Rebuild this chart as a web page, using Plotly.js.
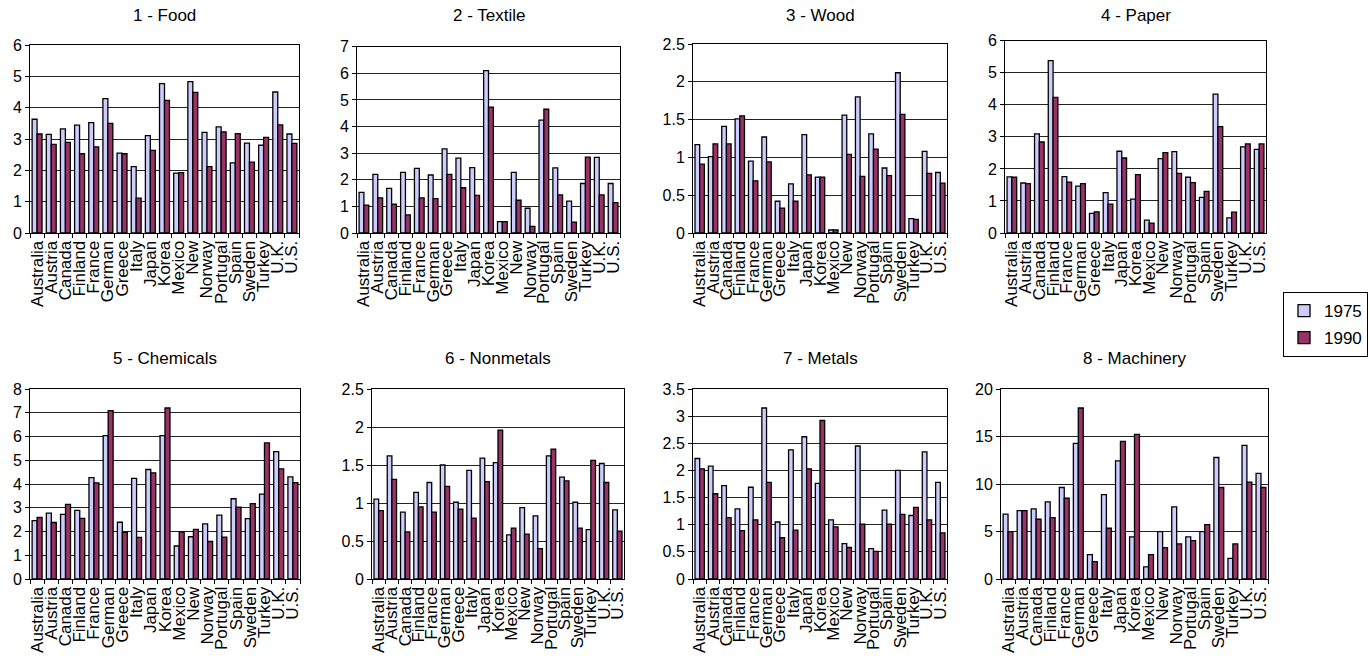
<!DOCTYPE html>
<html>
<head>
<meta charset="utf-8">
<script src="https://cdn.plot.ly/plotly-3.0.1.min.js"></script>
<style>html,body{margin:0;padding:0;background:#fff;}#chart{width:1370px;height:667px;}</style>
</head>
<body>
<div id="chart"></div>
<script>
const countries = ["Australia","Austria","Canada","Finland","France","German","Greece","Italy","Japan","Korea","Mexico","New","Norway","Portugal","Spain","Sweden","Turkey","U.K.","U.S."];
const panelTitles = ["1 - Food","2 - Textile","3 - Wood","4 - Paper","5 - Chemicals","6 - Nonmetals","7 - Metals","8 - Machinery"];
const seriesNames = ["1975","1990"];

const food1975 = [3.63,3.15,3.32,3.44,3.52,4.29,2.55,2.12,3.11,4.77,1.91,4.83,3.21,3.39,2.24,2.87,2.80,4.50,3.16];
const food1990 = [3.16,2.83,2.89,2.53,2.75,3.50,2.53,1.11,2.64,4.23,1.93,4.49,2.12,3.23,3.17,2.26,3.05,3.45,2.86];
const textile1975 = [1.53,2.20,1.68,2.28,2.43,2.18,3.16,2.81,2.46,6.10,0.43,2.28,0.93,4.24,2.45,1.20,1.86,2.84,1.86];
const textile1990 = [1.05,1.32,1.08,0.68,1.32,1.29,2.20,1.70,1.41,4.73,0.43,1.23,0.25,4.65,1.43,0.41,2.85,1.43,1.14];
const wood1975 = [1.17,1.01,1.41,1.51,0.95,1.27,0.42,0.65,1.30,0.74,0.04,1.56,1.80,1.31,0.86,2.12,0.19,1.08,0.80];
const wood1990 = [0.91,1.18,1.18,1.55,0.69,0.94,0.33,0.42,0.77,0.74,0.04,1.04,0.75,1.11,0.76,1.57,0.18,0.79,0.66];
const paper1975 = [1.75,1.56,3.09,5.38,1.76,1.46,0.61,1.26,2.55,1.06,0.40,2.32,2.54,1.74,1.11,4.33,0.47,2.69,2.61];
const paper1990 = [1.74,1.54,2.84,4.23,1.59,1.54,0.66,0.90,2.34,1.82,0.31,2.51,1.86,1.57,1.30,3.32,0.65,2.78,2.78];
const chem1975 = [2.46,2.77,2.72,2.89,4.27,6.04,2.39,4.24,4.61,6.04,1.39,1.78,2.32,2.69,3.38,2.54,3.57,5.36,4.30];
const chem1990 = [2.59,2.38,3.14,2.55,4.05,7.09,1.96,1.75,4.47,7.20,1.99,2.09,1.58,1.76,3.03,3.17,5.73,4.64,4.06];
const nonmet1975 = [1.05,1.62,0.88,1.14,1.27,1.50,1.01,1.43,1.59,1.53,0.58,0.94,0.83,1.62,1.34,1.01,0.65,1.52,0.91];
const nonmet1990 = [0.90,1.31,0.62,0.95,0.88,1.22,0.92,0.80,1.28,1.96,0.67,0.59,0.40,1.71,1.29,0.67,1.56,1.27,0.63];
const metals1975 = [2.22,2.08,1.72,1.29,1.69,3.15,1.05,2.38,2.62,1.76,1.09,0.65,2.45,0.56,1.27,2.00,1.17,2.34,1.78];
const metals1990 = [2.03,1.57,1.13,0.89,1.09,1.78,0.76,0.90,2.03,2.92,0.96,0.58,1.01,0.51,1.01,1.19,1.32,1.09,0.85];
const mach1975 = [6.82,7.20,7.38,8.12,9.63,14.27,2.57,8.89,12.44,4.43,1.27,4.99,7.59,4.43,4.99,12.79,2.18,14.06,11.11];
const mach1990 = [4.99,7.20,6.29,6.47,8.50,18.00,1.83,5.34,14.48,15.22,2.57,3.30,3.69,4.04,5.73,9.63,3.69,10.19,9.63];

const yMax = [6,7,2.5,6,8,2.5,3.5,20];
const yStep = [1,1,0.5,1,1,0.5,0.5,5];

const panelData = [
  [food1975, food1990],[textile1975, textile1990],[wood1975, wood1990],[paper1975, paper1990],
  [chem1975, chem1990],[nonmet1975, nonmet1990],[metals1975, metals1990],[mach1975, mach1990]
];

const W = 1370, H = 667;
// plot boxes in pixels [left, right, top, bottom]
const boxes = [
  [30,299,45,233],[357,620,46.7,233],[693,947,44,233],[1005,1266,40.7,233],
  [30,300,389,579],[372,624,389,579],[693,947,389,579],[1001,1268,389,579]
];
const colors = ["#ccccff","#993366"];
const FONT = "Liberation Sans, Arial, sans-serif";

const traces = [];
const layout = {
  width: W, height: H,
  margin: {l:0,r:0,t:0,b:0},
  paper_bgcolor: "#fff", plot_bgcolor: "#fff",
  font: {family: FONT, color: "#000", size: 15},
  barmode: "group", bargap: 0.3, bargroupgap: 0,
  showlegend: true,
  legend: {x: 1283/W, y: 1-292/H, xanchor: "left", yanchor: "top",
           bordercolor: "#000", borderwidth: 1, bgcolor: "#fff",
           font: {family: FONT, size: 17}, tracegroupgap: 2},
  annotations: []
};

panelData.forEach((pair, i) => {
  const n = i + 1;
  const xa = "x" + (n === 1 ? "" : n), ya = "y" + (n === 1 ? "" : n);
  pair.forEach((vals, s) => {
    traces.push({
      type: "bar", x: countries, y: vals, name: seriesNames[s],
      xaxis: xa, yaxis: ya, showlegend: i === 0,
      legendgroup: seriesNames[s],
      marker: {color: colors[s], line: {color: "#000", width: 1.3}},
      hoverinfo: "x+y+name"
    });
  });
  const b = boxes[i];
  const xk = "xaxis" + (n === 1 ? "" : n), yk = "yaxis" + (n === 1 ? "" : n);
  layout[xk] = {
    domain: [b[0]/W, b[1]/W], anchor: ya, type: "category",
    tickmode: "linear", tick0: 0, dtick: 1,
    tickangle: -90, ticks: "outside", ticklen: 4, tickson: "boundaries",
    tickcolor: "#000", showline: true, mirror: true, linecolor: "#000", linewidth: 1,
    showgrid: false, zeroline: false, fixedrange: true,
    tickfont: {family: FONT, size: 17, color: "#000"}
  };
  layout[yk] = {
    domain: [1 - b[3]/H, 1 - b[2]/H], anchor: xa,
    range: [0, yMax[i]], dtick: yStep[i], tick0: 0,
    ticks: "outside", ticklen: 4, tickcolor: "#000",
    showline: true, mirror: true, linecolor: "#000", linewidth: 1,
    showgrid: true, gridcolor: "#222", gridwidth: 1, zeroline: false, fixedrange: true,
    tickfont: {family: FONT, size: 16, color: "#000"}
  };
  layout.annotations.push({
    text: panelTitles[i], xref: "paper", yref: "paper",
    x: (b[0] + b[1]) / 2 / W, y: 1 - (i < 4 ? 16 : 358) / H,
    xanchor: "center", yanchor: "middle", showarrow: false,
    font: {family: FONT, size: 17, color: "#000"}
  });
});

Plotly.newPlot("chart", traces, layout, {displayModeBar: false, staticPlot: true});
</script>
</body>
</html>
